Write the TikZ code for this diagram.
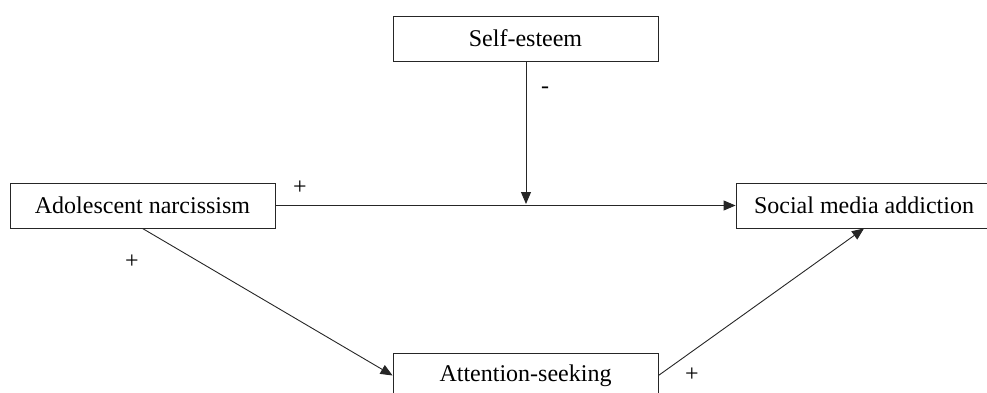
\documentclass[tikz,border=0pt]{standalone}
\usepackage{fontspec}
\setmainfont{Liberation Serif}
\usetikzlibrary{arrows.meta}
\begin{document}
\begin{tikzpicture}[x=1pt,y=1pt,
  box/.style={draw=black!85, line width=0.9pt, rectangle, inner sep=0pt, minimum height=45pt, font=\fontsize{24}{28}\selectfont},
  conn/.style={draw=black!85, line width=0.9pt},
  arr/.style={conn, -{Triangle[length=12pt,width=10pt]}},
  lbl/.style={font=\fontsize{24}{28}\selectfont, inner sep=0pt}]
\useasboundingbox (0,0) rectangle (987,392);
\clip (0,0) rectangle (987,392);
\node[box, minimum width=265pt] (se) at (525.5,353.5) {Self-esteem};
\node[box, minimum width=265pt] (an) at (142.5,186.5) {Adolescent narcissism};
\node[box, minimum width=256pt] (sm) at (864,186.5) {Social media addiction};
\node[box, minimum width=265pt] (at) at (525.5,16.5) {Attention-seeking};
\coordinate (mid) at (526,188);
\draw[arr] (an.east) -- (sm.west);
\draw[arr] (se.south -| mid) -- (mid);
\draw[arr] (an.south) -- (at.west);
\draw[arr] (at.east) -- (sm.south);
\node[lbl] (l1) at (545,302) {-};
\node[lbl] (l2) at (300,204) {+};
\node[lbl] (l3) at (132,130) {+};
\node[lbl] (l4) at (692,17) {+};
\end{tikzpicture}
\end{document}
